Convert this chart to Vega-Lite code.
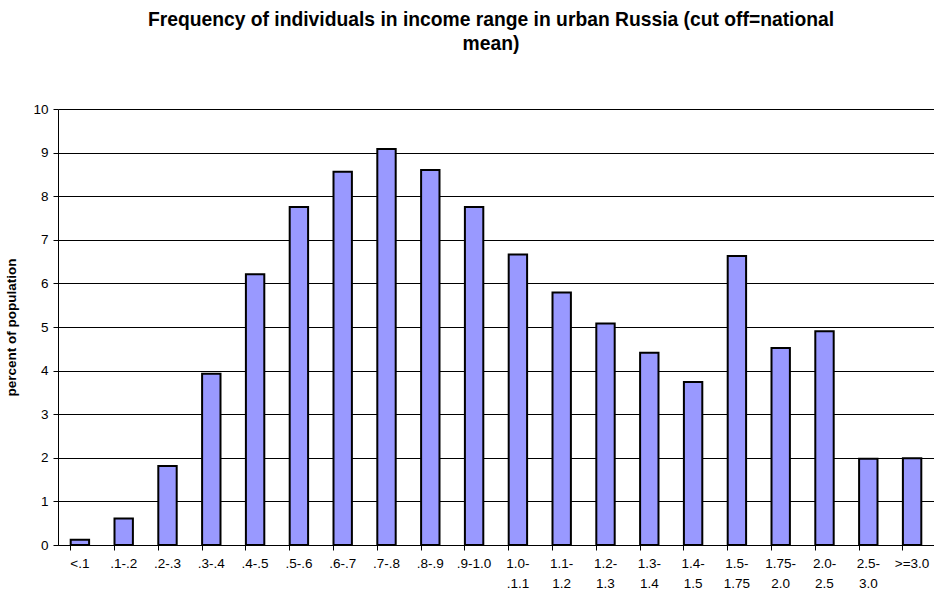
{
  "$schema": "https://vega.github.io/schema/vega-lite/v6.json",
  "width": 876,
  "height": 436,
  "autosize": {"type": "none"},
  "padding": {"left": 58, "top": 109, "right": 0, "bottom": 48},
  "background": "white",
  "title": {
    "text": ["Frequency of individuals in income range in urban Russia (cut off=national", "mean)"],
    "font": "Liberation Sans",
    "fontSize": 19.3,
    "fontWeight": "bold",
    "color": "black",
    "anchor": "middle",
    "offset": 48,
    "lineHeight": 24,
    "dx": -5
  },
  "data": {
    "values": [
      {"range": "<.1", "percent": 0.12},
      {"range": ".1-.2", "percent": 0.61},
      {"range": ".2-.3", "percent": 1.81},
      {"range": ".3-.4", "percent": 3.93},
      {"range": ".4-.5", "percent": 6.21},
      {"range": ".5-.6", "percent": 7.75},
      {"range": ".6-.7", "percent": 8.56},
      {"range": ".7-.8", "percent": 9.08},
      {"range": ".8-.9", "percent": 8.6},
      {"range": ".9-1.0", "percent": 7.75},
      {"range": "1.0- .1.1", "percent": 6.66},
      {"range": "1.1- 1.2", "percent": 5.79},
      {"range": "1.2- 1.3", "percent": 5.08},
      {"range": "1.3- 1.4", "percent": 4.41},
      {"range": "1.4- 1.5", "percent": 3.74},
      {"range": "1.5- 1.75", "percent": 6.63},
      {"range": "1.75- 2.0", "percent": 4.52},
      {"range": "2.0- 2.5", "percent": 4.9},
      {"range": "2.5- 3.0", "percent": 1.98},
      {"range": ">=3.0", "percent": 1.99}
    ]
  },
  "mark": {"type": "bar", "fill": "#9999FF", "stroke": "black", "strokeWidth": 2},
  "encoding": {
    "x": {
      "field": "range",
      "type": "nominal",
      "sort": null,
      "scale": {"paddingInner": 0.58, "paddingOuter": 0.29},
      "axis": {
        "title": null,
        "labelAngle": 0,
        "labelExpr": "split(datum.label, ' ')",
        "labelFont": "Liberation Sans",
        "labelFontSize": 13.5,
        "labelColor": "black",
        "labelPadding": 6,
        "labelLineHeight": 20,
        "bandPosition": 0,
        "ticks": true,
        "tickColor": "black",
        "tickSize": 5,
        "domainColor": "black",
        "domainWidth": 1,
        "grid": false
      }
    },
    "y": {
      "field": "percent",
      "type": "quantitative",
      "scale": {"domain": [0, 10], "nice": false},
      "axis": {
        "title": "percent of population",
        "titleFont": "Liberation Sans",
        "titleFontSize": 13.5,
        "titleFontWeight": "bold",
        "titleColor": "black",
        "titlePadding": 14,
        "values": [0, 1, 2, 3, 4, 5, 6, 7, 8, 9, 10],
        "labelFont": "Liberation Sans",
        "labelFontSize": 13.5,
        "labelColor": "black",
        "labelPadding": 5,
        "tickColor": "black",
        "tickSize": 5,
        "domainColor": "black",
        "grid": true,
        "gridColor": "black",
        "gridOpacity": 1,
        "gridWidth": 1
      }
    }
  },
  "config": {"view": {"stroke": null}}
}
